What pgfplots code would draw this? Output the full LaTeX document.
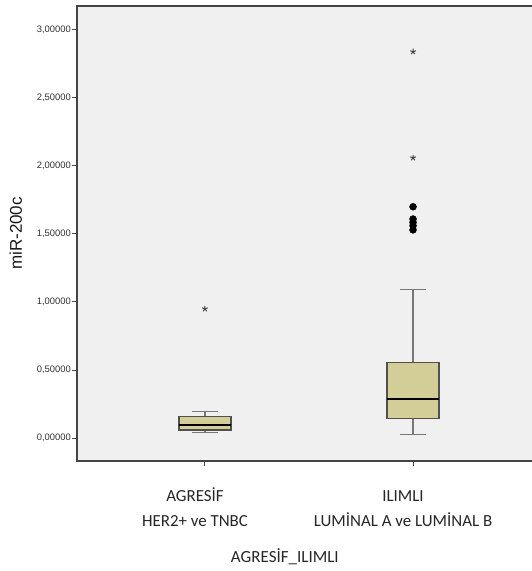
\documentclass[border=0pt]{standalone}
\usepackage{pgfplots}
\pgfplotsset{compat=1.18}
\usepgfplotslibrary{statistics}
\usepackage{fontspec}
\setmainfont{Liberation Sans}
\newfontfamily\calibri{Carlito}

\definecolor{boxfill}{RGB}{211,206,151}
\definecolor{plotbg}{RGB}{240,240,240}
\definecolor{framecol}{RGB}{68,68,68}
\definecolor{boxedge}{RGB}{80,80,80}
\definecolor{whiskcol}{RGB}{120,120,120}
\definecolor{ticktext}{RGB}{50,50,50}

\begin{document}
\begin{tikzpicture}
\begin{axis}[
  name=ax,
  scale only axis,
  width=464pt, height=455pt,
  xmin=0.385, xmax=2.615,
  ymin=-0.169, ymax=3.176,
  axis background/.style={fill=plotbg},
  axis line style={framecol, line width=1.2pt},
  tick align=outside, tick pos=left,
  major tick length=5pt,
  tick style={framecol, line width=1pt},
  xtick={1,2},
  xticklabels={{AGRESİF\\HER2+ ve TNBC},{\vphantom{İ}ILIMLI\\LUMİNAL A ve LUMİNAL B}},
  xticklabel style={align=center, text=black!85, font=\calibri\fontsize{16.9}{25}\selectfont, xshift=-10pt, yshift=-18pt},
  ytick={0,0.5,1,1.5,2,2.5,3},
  yticklabel={\pgfmathprintnumber[fixed,fixed zerofill,precision=5,use comma,assume math mode=true]{\tick}},
  yticklabel style={font=\fontsize{9.4}{11}\selectfont, text=ticktext, inner sep=1pt},
  xlabel={AGRESİF\_ILIMLI},
  xlabel style={at={(axis description cs:0.448,-0.211)}, anchor=center, text=black!85, font=\calibri\fontsize{17}{20}\selectfont},
  ylabel={miR-200c},
  ylabel style={at={(axis description cs:-0.132,0.5)}, anchor=center, text=black!90, font=\fontsize{17}{20}\selectfont},
  boxplot/draw direction=y,
  boxplot/every box/.style={fill=boxfill, draw=boxedge, line width=1.2pt},
  boxplot/every whisker/.style={draw=whiskcol, line width=1.3pt},
  boxplot/every median/.style={draw=black, line width=1.6pt},
  clip=false,
]
% AGRESİF group
\addplot[draw=whiskcol, boxplot prepared={
    draw position=1,
    lower whisker=0.042, lower quartile=0.059,
    median=0.096,
    upper quartile=0.157, upper whisker=0.193,
    box extend=0.25, whisker extend=0.125}]
  coordinates {};
% ILIMLI group
\addplot[draw=whiskcol, boxplot prepared={
    draw position=2,
    lower whisker=0.027, lower quartile=0.142,
    median=0.285,
    upper quartile=0.557, upper whisker=1.090,
    box extend=0.25, whisker extend=0.125}]
  coordinates {};
% outliers
\addplot[only marks, mark=*, mark size=3.5pt, black]
  coordinates {(2,1.70) (2,1.61) (2,1.585) (2,1.56) (2,1.53)};
% extreme values
\addplot[only marks, mark=star, mark size=3pt, framecol, line width=1pt]
  coordinates {(1,0.95) (2,2.06) (2,2.84)};
\end{axis}
\pgfresetboundingbox
\useasboundingbox ([xshift=-77pt,yshift=-110pt]ax.south west) rectangle ([xshift=454pt,yshift=461pt]ax.south west);
\end{tikzpicture}
\end{document}
